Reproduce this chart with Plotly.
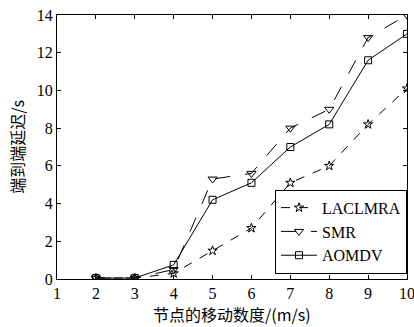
import plotly.graph_objects as go

x_speed = [2, 3, 4, 5, 6, 7, 8, 9, 10]
laclmra = [0.05, 0.05, 0.3, 1.5, 2.7, 5.1, 6.0, 8.2, 10.1]
smr = [0.05, 0.05, 0.5, 5.3, 5.6, 8.0, 9.0, 12.8, 14.0]
aomdv = [0.05, 0.05, 0.75, 4.2, 5.1, 7.0, 8.2, 11.6, 13.0]
x_ticks = [1, 2, 3, 4, 5, 6, 7, 8, 9, 10]
y_ticks = [0, 2, 4, 6, 8, 10, 12, 14]

serif = "Liberation Serif, Times New Roman, serif"
cjk = "Noto Sans CJK SC"

fig = go.Figure()
fig.add_trace(go.Scatter(x=x_speed, y=laclmra, name="LACLMRA", mode="lines+markers",
                         line=dict(color="black", width=1, dash="dash"),
                         marker=dict(symbol="star-open", size=7, color="black", line=dict(width=1))))
fig.add_trace(go.Scatter(x=x_speed, y=smr, name="SMR", mode="lines+markers",
                         line=dict(color="black", width=1, dash="longdash"),
                         marker=dict(symbol="triangle-down-open", size=8, color="black", line=dict(width=1))))
fig.add_trace(go.Scatter(x=x_speed, y=aomdv, name="AOMDV", mode="lines+markers",
                         line=dict(color="black", width=1),
                         marker=dict(symbol="square-open", size=7, color="black", line=dict(width=1))))

axis_common = dict(showgrid=False, zeroline=False, showline=True, linecolor="black", linewidth=1,
                   mirror="ticks", ticks="inside", ticklen=4, tickcolor="black", automargin=False,
                   ticklabeloverflow="allow",
                   tickfont=dict(family=serif, size=16, color="black"))
fig.update_xaxes(range=[1, 10], tickvals=x_ticks, **axis_common)
fig.update_yaxes(range=[0, 14], tickvals=y_ticks, **axis_common)
fig.add_annotation(text="节点的移动数度/(m/s)", xref="paper", yref="paper", x=0.5, y=-0.08,
                   xanchor="center", yanchor="top", showarrow=False,
                   font=dict(family=cjk, size=16, color="black"))
fig.add_annotation(text="端到端延迟/s", xref="paper", yref="paper", x=-0.115, y=0.5,
                   xanchor="center", yanchor="middle", textangle=-90, showarrow=False,
                   font=dict(family=cjk, size=16, color="black"))
fig.update_layout(width=414, height=327, margin=dict(l=57, r=7, t=15, b=48),
                  paper_bgcolor="white", plot_bgcolor="white", showlegend=True,
                  legend=dict(x=1, xanchor="right", y=0.02, yanchor="bottom",
                              bgcolor="white", bordercolor="black", borderwidth=1,
                              font=dict(family=serif, size=16, color="black"),
                              tracegroupgap=0, itemwidth=36))
fig.write_html("out.html", config={"displayModeBar": False},
               post_script="document.body.style.margin='0';document.body.style.overflow='hidden';")
